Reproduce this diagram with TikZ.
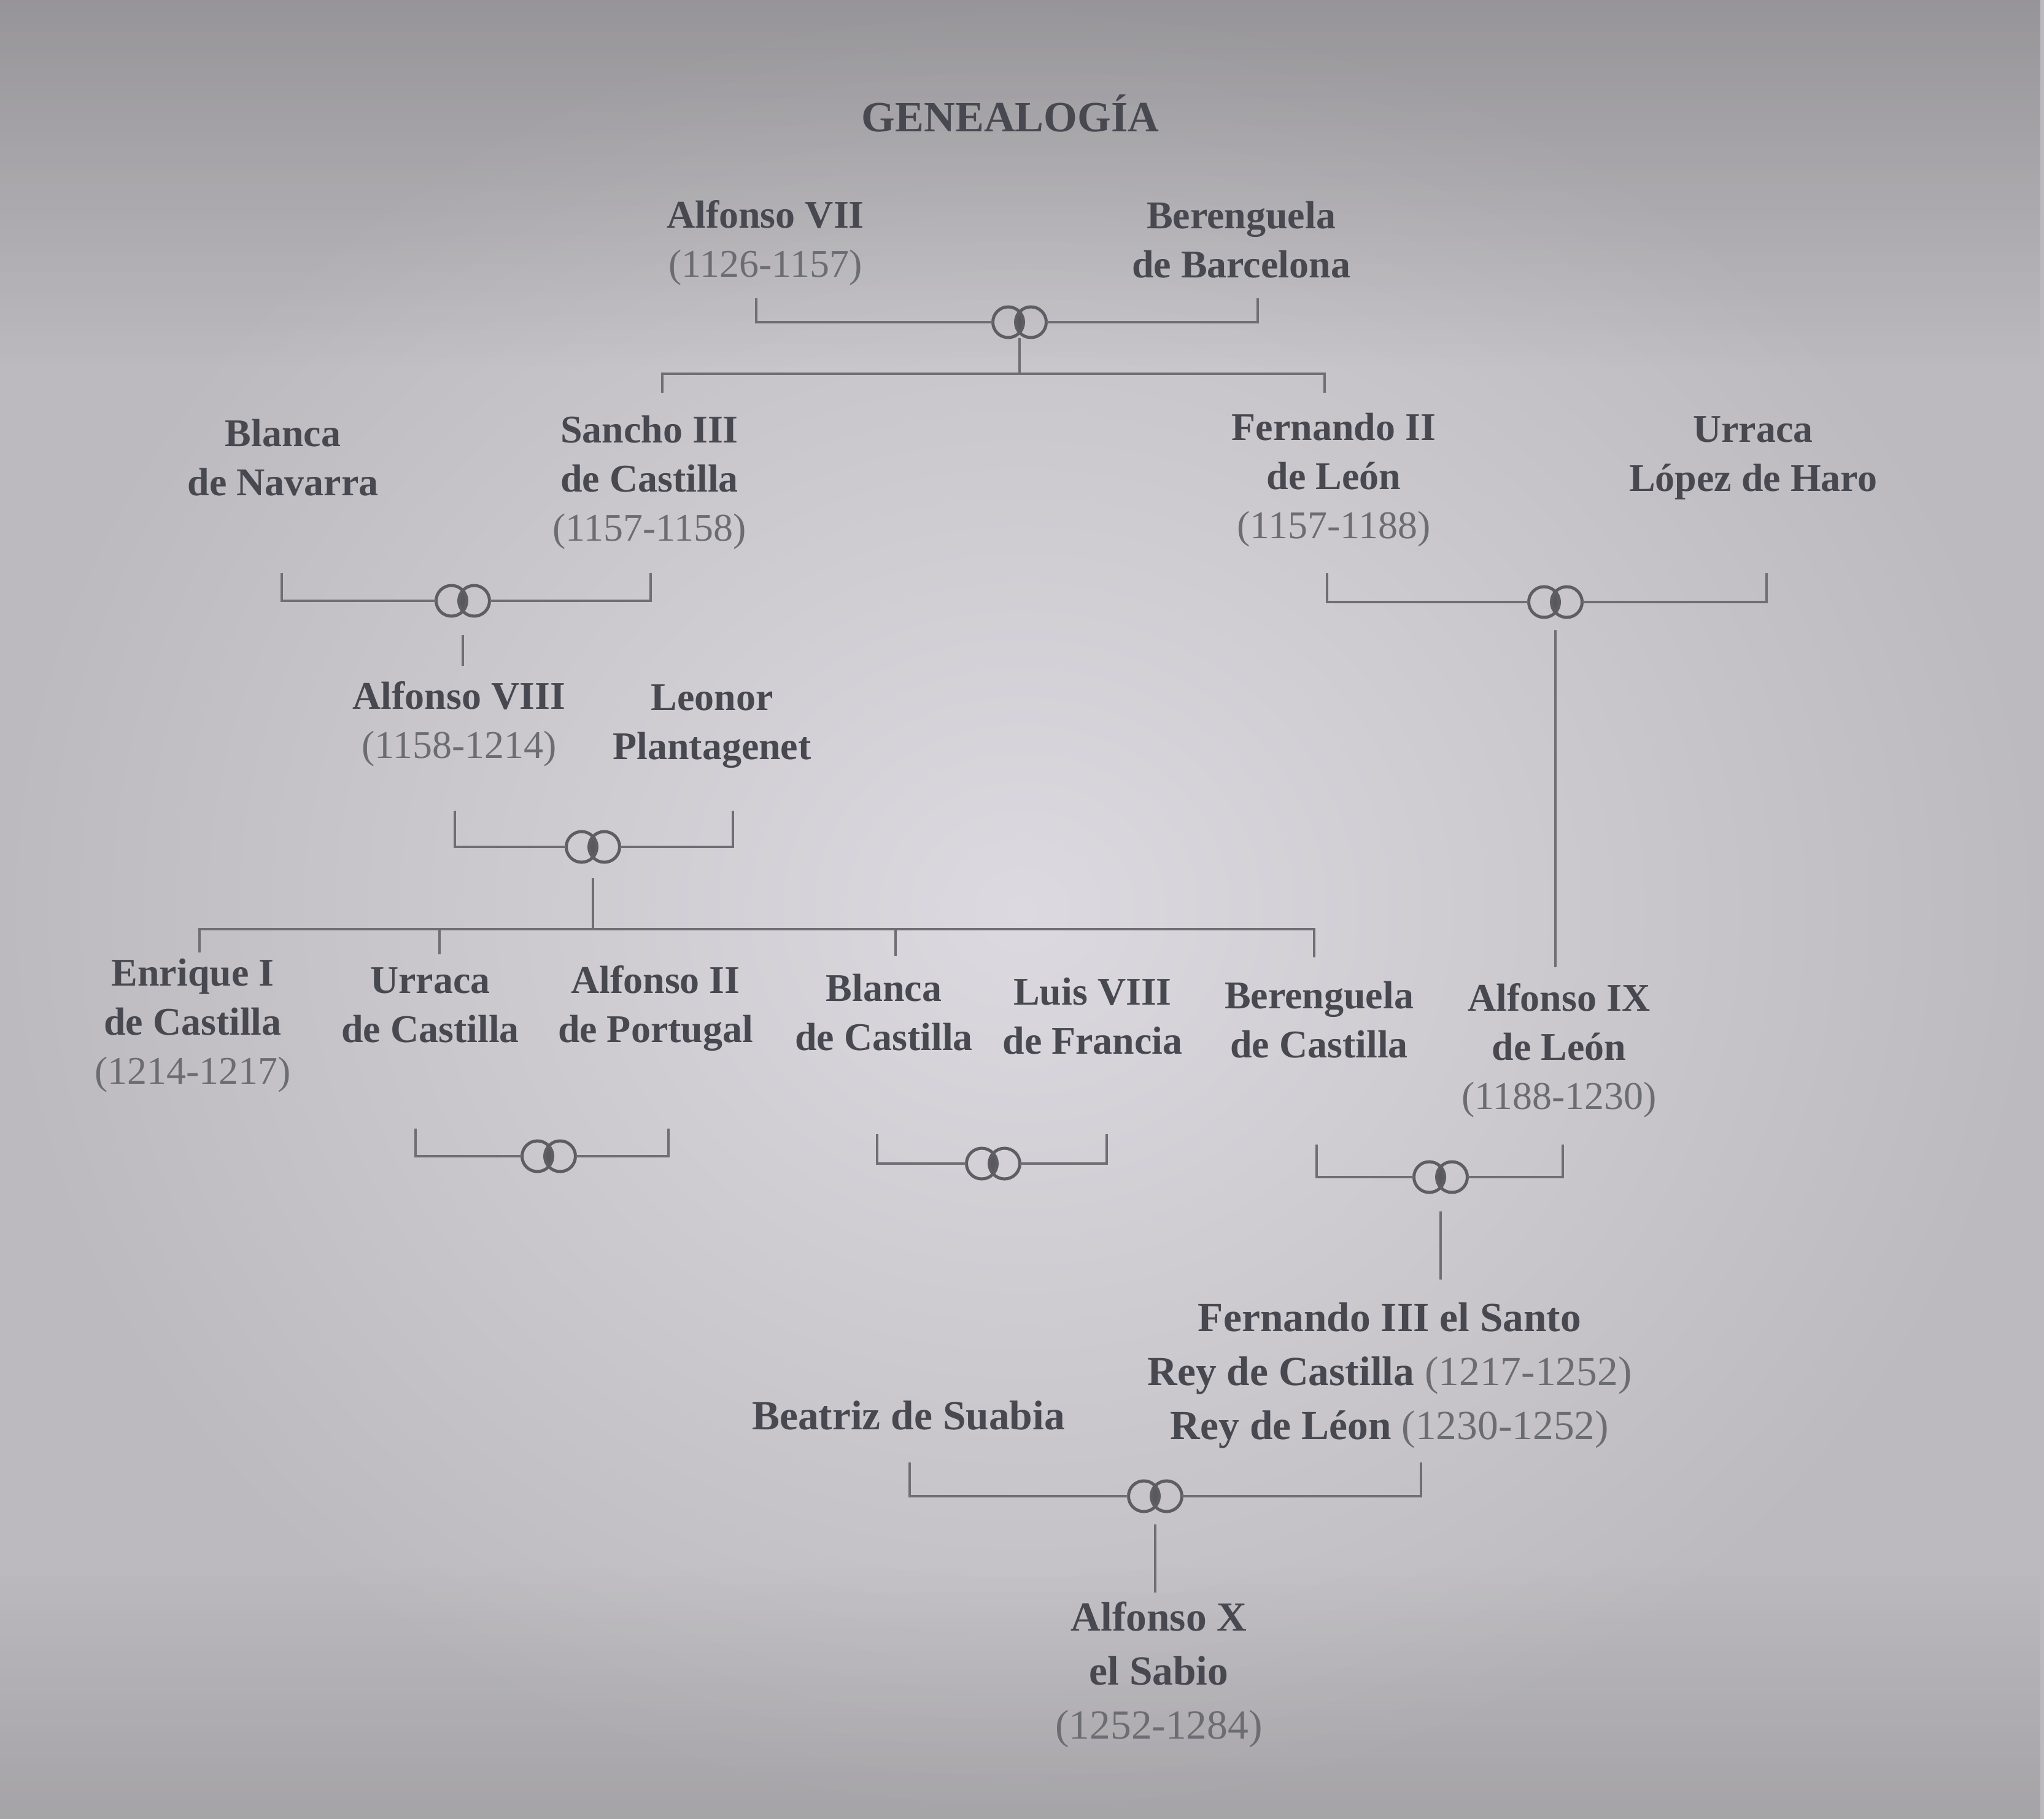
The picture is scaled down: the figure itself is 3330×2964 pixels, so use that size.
\documentclass[tikz,border=0pt]{standalone}
\usepackage{fontspec}
\setmainfont{Liberation Serif}
\usetikzlibrary{shapes.geometric,fadings}
\definecolor{bgin}{RGB}{220,218,224}
\definecolor{bgout}{RGB}{188,186,190}
\definecolor{namecol}{RGB}{72,72,80}
\definecolor{datecol}{RGB}{108,108,115}
\definecolor{linecol}{RGB}{110,110,116}
\newcommand\dt[1]{{\mdseries\color{datecol}#1}}
\newcommand\marriage[3]{%
  \node[marr] (#1) at (#2,#3) {};
  \begin{scope}
    \clip ([xshift=-1.85mm]#1.center) circle[radius=2.5mm];
    \fill[linecol!80!black] ([xshift=1.85mm]#1.center) circle[radius=2.5mm];
  \end{scope}
  \draw[ring] ([xshift=-1.85mm]#1.center) circle[radius=2.5mm];
  \draw[ring] ([xshift=1.85mm]#1.center) circle[radius=2.5mm];}
\begin{document}
\begin{tikzpicture}[x=0.1mm,y=-0.1mm,
  person/.style={align=center, font=\fontsize{18.2}{22.8}\selectfont\bfseries, text=namecol, inner sep=0pt},
  bigperson/.style={align=center, font=\fontsize{19.2}{25}\selectfont\bfseries, text=namecol, inner sep=0pt},
  link/.style={draw=linecol, line width=0.45mm},
  marr/.style={ellipse, minimum width=8.7mm, minimum height=5mm, inner sep=0pt},
  ring/.style={draw=linecol!85!black, line width=0.5mm}]
\useasboundingbox (0,0) rectangle (3330,2964);
\shade[inner color=bgin, outer color=bgout] (0,0) rectangle (3330,2964);
\fill[black, opacity=0.2, path fading=south] (0,0) rectangle (3330,600);
\fill[black, opacity=0.12, path fading=north] (0,2550) rectangle (3330,2964);

\node[font=\fontsize{20}{24}\selectfont\bfseries, text=namecol] (title) at (1646,185) {GENEALOGÍA};

% persons
\node[person] (a7) at (1247,396) {Alfonso VII\\\dt{(1126-1157)}};
\node[person] (bb) at (2022,391) {Berenguela\\de Barcelona};
\node[person] (bn) at (461,746) {Blanca\\de Navarra};
\node[person] (s3) at (1058,786) {Sancho III\\de Castilla\\\dt{(1157-1158)}};
\node[person] (f2) at (2173,782) {Fernando II\\de León\\\dt{(1157-1188)}};
\node[person] (ul) at (2856,746) {Urraca\\López de Haro};
\node[person] (a8) at (748,1180) {Alfonso VIII\\\dt{(1158-1214)}};
\node[person] (lp) at (1160,1184) {Leonor\\Plantagenet};
\node[person] (e1) at (314,1671) {Enrique I\\de Castilla\\\dt{(1214-1217)}};
\node[person] (uc) at (701,1638) {Urraca\\de Castilla};
\node[person] (a2) at (1068,1643) {Alfonso II\\de Portugal};
\node[person] (bc) at (1440,1650) {Blanca\\de Castilla};
\node[person] (l8) at (1780,1656) {Luis VIII\\de Francia};
\node[person] (bec) at (2149,1662) {Berenguela\\de Castilla};
\node[person] (a9) at (2540,1712) {Alfonso IX\\de León\\\dt{(1188-1230)}};
\node[bigperson] (f3) at (2264,2241) {Fernando III el Santo\\Rey de Castilla \dt{(1217-1252)}\\Rey de Léon \dt{(1230-1252)}};
\node[bigperson] (bs) at (1480,2306) {Beatriz de Suabia};
\node[bigperson] (a10) at (1888,2729) {Alfonso X\\el Sabio\\\dt{(1252-1284)}};

% marriage 1: Alfonso VII + Berenguela de Barcelona
\marriage{m1}{1661}{525}
\coordinate (m1l) at (1232,486);
\coordinate (m1r) at (2049,486);
\draw[link] (m1l) |- (m1);
\draw[link] (m1r) |- (m1);
\coordinate (j1) at (1661,609);
\coordinate (k1a) at (1079,640);
\coordinate (k1b) at (2158,640);
\draw[link] (m1) -- (j1);
\draw[link] (k1a) |- (j1) -| (k1b);

% marriage 2: Blanca de Navarra + Sancho III
\marriage{m2}{754}{979}
\coordinate (m2l) at (459,934);
\coordinate (m2r) at (1060,934);
\draw[link] (m2l) |- (m2);
\draw[link] (m2r) |- (m2);
\coordinate (d2) at (754,1085);
\draw[link, shorten <=3mm] (m2) -- (d2);

% marriage 3: Fernando II + Urraca Lopez de Haro
\marriage{m3}{2534}{981}
\coordinate (m3l) at (2162,934);
\coordinate (m3r) at (2878,934);
\draw[link] (m3l) |- (m3);
\draw[link] (m3r) |- (m3);
\coordinate (d3) at (2534,1576);
\draw[link, shorten <=2mm] (m3) -- (d3);

% marriage 4: Alfonso VIII + Leonor
\marriage{m4}{966}{1380}
\coordinate (m4l) at (741,1321);
\coordinate (m4r) at (1194,1321);
\draw[link] (m4l) |- (m4);
\draw[link] (m4r) |- (m4);
\coordinate (j4) at (966,1514);
\draw[link, shorten <=2.5mm] (m4) -- (j4);
\coordinate (k4a) at (325,1552);
\coordinate (k4b) at (716,1555);
\coordinate (k4c) at (1459,1558);
\coordinate (k4d) at (2141,1560);
\draw[link] (k4a) |- (j4) -| (k4d);
\draw[link] (k4b) -- (k4b |- j4);
\draw[link] (k4c) -- (k4c |- j4);

% marriage 5a: Urraca + Alfonso II
\marriage{m5}{894}{1884}
\coordinate (m5l) at (677,1839);
\coordinate (m5r) at (1089,1839);
\draw[link] (m5l) |- (m5);
\draw[link] (m5r) |- (m5);

% marriage 5b: Blanca + Luis VIII
\marriage{m6}{1618}{1896}
\coordinate (m6l) at (1429,1848);
\coordinate (m6r) at (1803,1848);
\draw[link] (m6l) |- (m6);
\draw[link] (m6r) |- (m6);

% marriage 5c: Berenguela + Alfonso IX
\marriage{m7}{2347}{1918}
\coordinate (m7l) at (2145,1865);
\coordinate (m7r) at (2546,1865);
\draw[link] (m7l) |- (m7);
\draw[link] (m7r) |- (m7);
\coordinate (d7) at (2347,2085);
\draw[link, shorten <=3mm] (m7) -- (d7);

% marriage 6: Beatriz + Fernando III
\marriage{m8}{1882}{2438}
\coordinate (m8l) at (1482,2383);
\coordinate (m8r) at (2315,2383);
\draw[link] (m8l) |- (m8);
\draw[link] (m8r) |- (m8);
\coordinate (d8) at (1882,2595);
\draw[link, shorten <=2mm] (m8) -- (d8);
\end{tikzpicture}
\end{document}
